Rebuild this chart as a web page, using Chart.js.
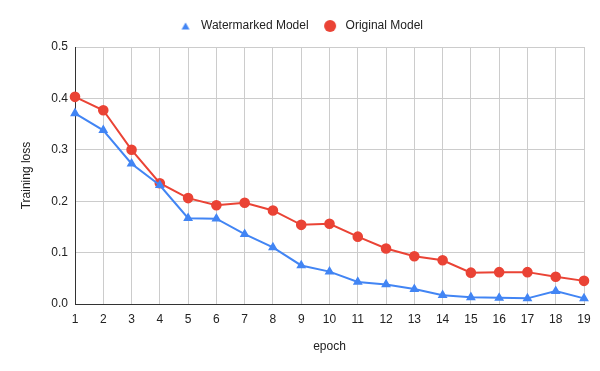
<!DOCTYPE html>
<html>
<head>
<meta charset="utf-8">
<script src="https://cdn.jsdelivr.net/npm/chart.js@4/dist/chart.umd.min.js"></script>
<style>
  html, body { margin: 0; padding: 0; background: #fff; }
  #wrap { width: 600px; height: 371px; }
</style>
</head>
<body>
<div id="wrap"><canvas id="grafica" width="600" height="371"></canvas></div>
<script>
const epochs = ['1', '2', '3', '4', '5', '6', '7', '8', '9', '10', '11', '12', '13', '14', '15', '16', '17', '18', '19'];
const watermarkedLoss = [0.371, 0.338, 0.273, 0.231, 0.167, 0.166, 0.136, 0.110, 0.075, 0.063, 0.043, 0.038, 0.029, 0.017, 0.013, 0.012, 0.011, 0.025, 0.011];
const originalLoss = [0.403, 0.377, 0.300, 0.235, 0.206, 0.192, 0.197, 0.182, 0.154, 0.156, 0.131, 0.108, 0.093, 0.085, 0.061, 0.062, 0.062, 0.053, 0.045];
const yTicks = [0, 0.1, 0.2, 0.3, 0.4, 0.5];

const AZUL = '#4285F4';
const ROJO = '#EA4335';

Chart.defaults.font.family = 'Arial, "Liberation Sans", sans-serif';
Chart.defaults.font.size = 12;
Chart.defaults.color = '#222';

// marcadores de la leyenda: triangulo pequeño y circulo grande, como en la referencia
function marcador(tipo, color) {
  const c = document.createElement('canvas');
  c.width = 14;
  c.height = 14;
  const g = c.getContext('2d');
  g.fillStyle = color;
  g.beginPath();
  if (tipo === 'triangle') {
    g.moveTo(7, 3.5);
    g.lineTo(11, 10.5);
    g.lineTo(3, 10.5);
    g.closePath();
  } else {
    g.arc(7, 7, 6, 0, Math.PI * 2);
  }
  g.fill();
  return c;
}
const marcadoresLeyenda = [marcador('triangle', AZUL), marcador('circle', ROJO)];

// fija el alto de la leyenda para que el area de datos empiece donde en la referencia
const alturaLeyenda = {
  id: 'alturaLeyenda',
  beforeInit(chart) {
    const fitOriginal = chart.legend.fit;
    chart.legend.fit = function () {
      fitOriginal.bind(chart.legend)();
      this.height = 39;
    };
  }
};

const ctx = document.getElementById('grafica').getContext('2d');
new Chart(ctx, {
  type: 'line',
  data: {
    labels: epochs,
    datasets: [
      {
        label: 'Watermarked Model',
        data: watermarkedLoss,
        borderColor: AZUL,
        backgroundColor: AZUL,
        borderWidth: 2,
        pointStyle: 'triangle',
        pointRadius: 3.7,
        pointHoverRadius: 3.7,
        tension: 0,
      },
      {
        label: 'Original Model',
        data: originalLoss,
        borderColor: ROJO,
        backgroundColor: ROJO,
        borderWidth: 2,
        pointStyle: 'circle',
        pointRadius: 4.3,
        pointHoverRadius: 4.3,
        tension: 0,
      }
    ]
  },
  options: {
    responsive: false,
    animation: false,
    layout: { padding: { left: 15, right: 16, top: 8, bottom: 13 } },
    scales: {
      x: {
        offset: false,
        grid: { color: '#cccccc', drawTicks: false },
        border: { color: '#333', width: 1 },
        ticks: { color: '#222', padding: 8, maxRotation: 0, autoSkip: false },
        title: { display: true, text: 'epoch', color: '#222', padding: 4 },
        afterFit(scale) { scale.height = 54; }
      },
      y: {
        min: 0,
        max: 0.5,
        afterBuildTicks(scale) { scale.ticks = yTicks.map(v => ({ value: v })); },
        grid: { color: '#cccccc', drawTicks: false },
        border: { color: '#333', width: 1 },
        ticks: { color: '#222', padding: 7, callback: v => Number(v).toFixed(1) },
        title: { display: true, text: 'Training loss', color: '#222', padding: 4 },
        afterFit(scale) { scale.width = 60; }
      }
    },
    plugins: {
      legend: {
        position: 'top',
        labels: {
          usePointStyle: true,
          pointStyleWidth: 19,
          boxWidth: 19,
          boxHeight: 12,
          padding: 12,
          color: '#222',
          font: { size: 12 },
          generateLabels(chart) {
            const items = Chart.defaults.plugins.legend.labels.generateLabels(chart);
            items.forEach((item, i) => { item.pointStyle = marcadoresLeyenda[i]; });
            return items;
          }
        }
      },
      tooltip: { enabled: false }
    }
  },
  plugins: [alturaLeyenda]
});
</script>
</body>
</html>
